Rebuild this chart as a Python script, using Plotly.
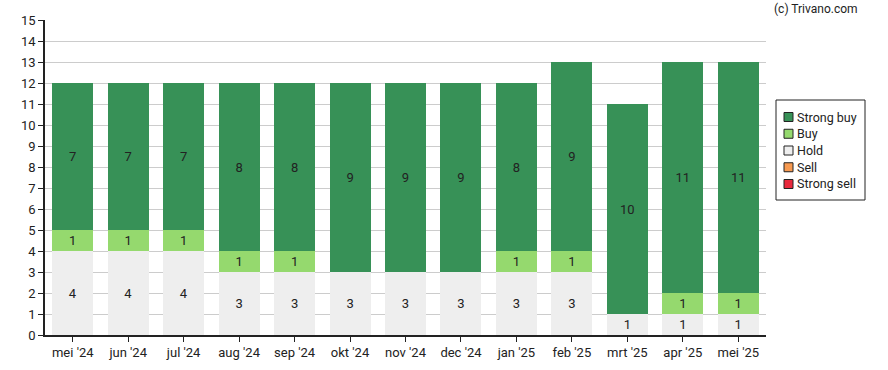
import plotly.graph_objects as go

months = ["mei '24", "jun '24", "jul '24", "aug '24", "sep '24", "okt '24", "nov '24",
          "dec '24", "jan '25", "feb '25", "mrt '25", "apr '25", "mei '25"]
strong_sell = [0, 0, 0, 0, 0, 0, 0, 0, 0, 0, 0, 0, 0]
sell = [0, 0, 0, 0, 0, 0, 0, 0, 0, 0, 0, 0, 0]
hold = [4, 4, 4, 3, 3, 3, 3, 3, 3, 3, 1, 1, 1]
buy = [1, 1, 1, 1, 1, 0, 0, 0, 1, 1, 0, 1, 1]
strong_buy = [7, 7, 7, 8, 8, 9, 9, 9, 8, 9, 10, 11, 11]

series = [
    ("Strong sell", strong_sell, "#e8283c"),
    ("Sell", sell, "#f79a51"),
    ("Hold", hold, "#eeeeee"),
    ("Buy", buy, "#95d96e"),
    ("Strong buy", strong_buy, "#379157"),
]

W, H = 888, 370
L, R, T, B = 45, 122, 20, 35
PW, PH = W - L - R, H - T - B


def px_x(p):
    return (p - L) / PW


def px_y(p):
    return (H - B - p) / PH


fig = go.Figure()
for name, vals, color in series:
    fig.add_trace(go.Bar(
        x=months, y=vals, name=name,
        marker=dict(color=color, line=dict(width=0)),
        text=[str(v) if v else "" for v in vals],
        textposition="inside", insidetextanchor="middle",
        textangle=0,
        textfont=dict(color="#222222", size=13, family="Roboto"),
        hoverinfo="x+y+name",
        showlegend=False,
    ))

shapes = [dict(type="rect", xref="paper", yref="paper",
               x0=px_x(776), x1=px_x(865), y0=px_y(200), y1=px_y(100),
               line=dict(color="#222222", width=1), fillcolor="white", layer="above")]
annotations = []
legend_items = list(reversed(series))
for i, (name, vals, color) in enumerate(legend_items):
    cy = 117 + i * 16.75
    shapes.append(dict(type="rect", xref="paper", yref="paper",
                       x0=px_x(784), x1=px_x(793), y0=px_y(cy + 4.5), y1=px_y(cy - 4.5),
                       line=dict(color="#222222", width=1), fillcolor=color, layer="above"))
    annotations.append(dict(text=name, xref="paper", yref="paper",
                            x=px_x(795), y=px_y(cy), xanchor="left", yanchor="middle",
                            showarrow=False, font=dict(size=12.5, family="Roboto", color="#222222")))

annotations.append(dict(
    text="(c) Trivano.com", xref="paper", yref="paper",
    x=px_x(860), y=px_y(9), xanchor="right", yanchor="middle",
    showarrow=False, font=dict(size=12, family="Roboto", color="#222222"),
))

fig.update_layout(
    barmode="stack",
    bargap=0.26,
    width=W, height=H,
    margin=dict(l=L, r=R, t=T, b=B, autoexpand=False),
    paper_bgcolor="white", plot_bgcolor="white",
    font=dict(family="Roboto", size=13, color="#222222"),
    uniformtext=dict(mode="show", minsize=13),
    showlegend=False,
    shapes=shapes,
    annotations=annotations,
)
fig.update_xaxes(
    showline=True, linecolor="#222222", linewidth=1.5,
    ticks="outside", ticklen=5, tickcolor="#222222",
    showgrid=False, automargin=False,
)
fig.update_yaxes(
    range=[0, 15], dtick=1, tick0=0,
    showline=True, linecolor="#222222", linewidth=1.5,
    ticks="outside", ticklen=5, tickcolor="#222222",
    showgrid=True, gridcolor="#cccccc", gridwidth=1,
    zeroline=False, automargin=False,
)
fig.write_html("out.html", config={"displayModeBar": False},
               post_script="document.body.style.margin='0';")
